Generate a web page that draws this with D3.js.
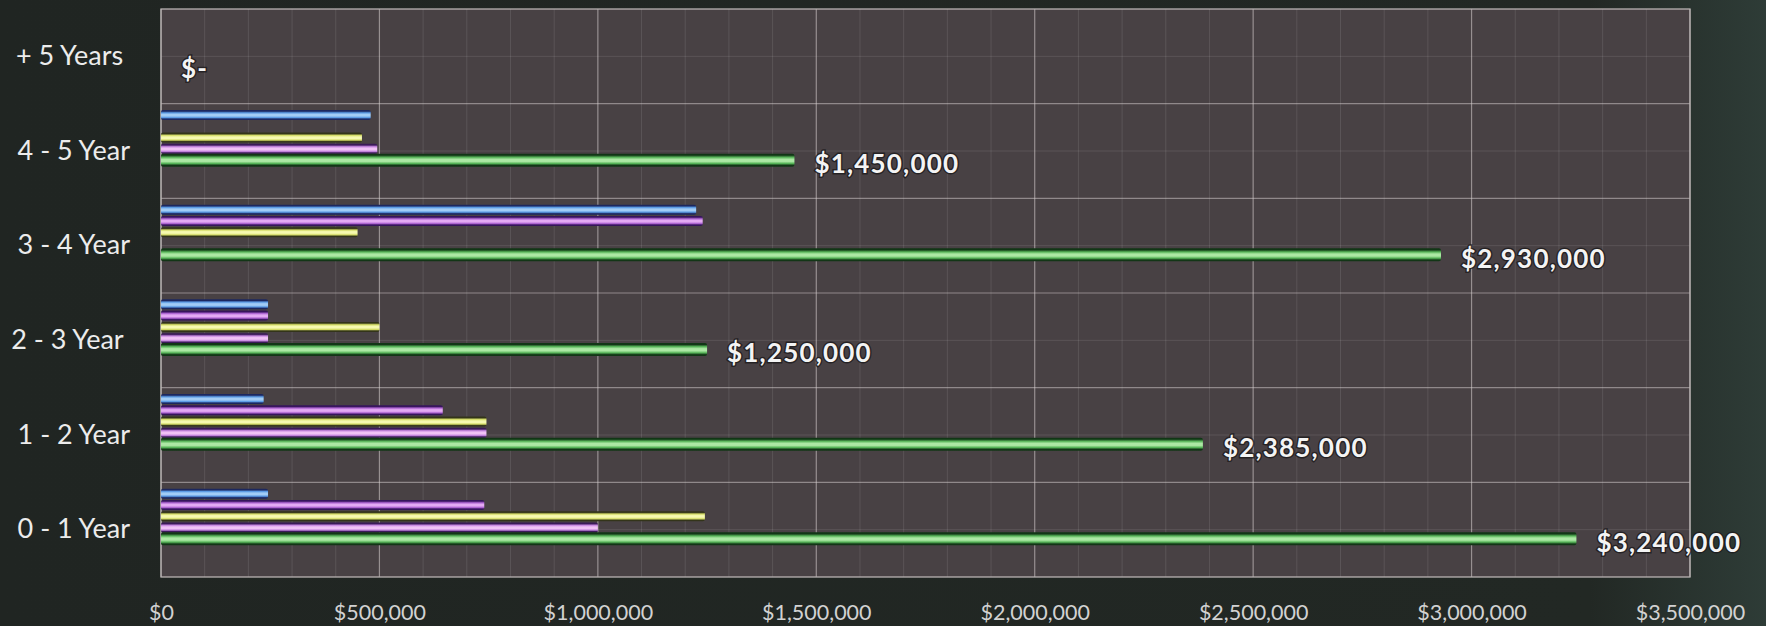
<!DOCTYPE html>
<html>
<head>
<meta charset="utf-8">
<script src="https://cdn.jsdelivr.net/npm/d3@7"></script>
<style>
  html, body { margin: 0; padding: 0; background: #212623; }
  svg { display: block; }
</style>
</head>
<body>
<svg id="chart" width="1766" height="626"></svg>
<script>
// Tenure brackets, top row first
const categories = ["+ 5 Years ", "4 - 5 Year", "3 - 4 Year", "2 - 3 Year ", "1 - 2 Year", "0 - 1 Year"];

// Component series per bracket (same order as categories)
const seriesBlue   = [0, 480000, 1225000, 245000, 235000, 245000];
const seriesPurple = [0, 0, 1240000, 245000, 645000, 740000];
const seriesYellow = [0, 460000, 450000, 500000, 745000, 1245000];
const seriesViolet = [0, 495000, 0, 245000, 745000, 1000000];
// Bracket totals, labelled on the chart
const seriesTotal  = [0, 1450000, 2930000, 1250000, 2385000, 3240000];

const seriesKeys = ["blue", "purple", "yellow", "violet", "total"];
const seriesValues = [seriesBlue, seriesPurple, seriesYellow, seriesViolet, seriesTotal];

// Axis ticks
const xTicks = [0, 500000, 1000000, 1500000, 2000000, 2500000, 3000000, 3500000];
const xMinorStep = 100000;

const W = 1766, H = 626;
const plot = { left: 161, right: 1690, top: 9, bottom: 577 };

const svg = d3.select("#chart");

// Bar palettes: edge (shadow), body, highlight
const palette = {
  blue:   { edge: "#1c2860", body: "#5a9ae4", light: "#a2cdf6" },
  purple: { edge: "#36145c", body: "#ac62d0", light: "#e4aaf4" },
  yellow: { edge: "#33341a", body: "#d4dc66", light: "#f6f9b0" },
  violet: { edge: "#3a1a58", body: "#c686e0", light: "#f0c2f6" },
  total:  { edge: "#123616", body: "#56b458", light: "#ace8a4" }
};

const defs = svg.append("defs");
seriesKeys.forEach(k => {
  const p = palette[k];
  const g = defs.append("linearGradient")
    .attr("id", "grad-" + k)
    .attr("x1", 0).attr("y1", 0).attr("x2", 0).attr("y2", 1);
  [[0, p.edge], [0.12, p.edge], [0.28, p.body], [0.44, p.light], [0.6, p.light], [0.76, p.body], [0.9, p.edge], [1, p.edge]]
    .forEach(([o, c]) => g.append("stop").attr("offset", o).attr("stop-color", c));
});

// Slight green cast toward the right edge of the backdrop
const bgGrad = defs.append("linearGradient").attr("id", "bg").attr("x1", 0).attr("x2", 1);
bgGrad.append("stop").attr("offset", 0).attr("stop-color", "#202522");
bgGrad.append("stop").attr("offset", 0.9).attr("stop-color", "#222824");
bgGrad.append("stop").attr("offset", 1).attr("stop-color", "#2e3c37");
svg.append("rect").attr("width", W).attr("height", H).attr("fill", "url(#bg)");

// Scales
const x = d3.scaleLinear().domain([0, 3500000]).range([plot.left, plot.right]);
const y = d3.scaleBand().domain(categories).range([plot.top, plot.bottom]).padding(0);
const bw = y.bandwidth();
const inner = d3.scaleBand().domain(seriesKeys).range([bw * 0.06, bw * 0.656]).padding(0);

// Plot background
svg.append("rect")
  .attr("x", plot.left).attr("y", plot.top)
  .attr("width", plot.right - plot.left).attr("height", plot.bottom - plot.top)
  .attr("fill", "#484144");

// Minor gridlines
const minorX = d3.range(0, 3500000 + 1, xMinorStep).filter(v => v % 500000 !== 0);
svg.append("g").selectAll("line").data(minorX).join("line")
  .attr("x1", d => x(d)).attr("x2", d => x(d))
  .attr("y1", plot.top).attr("y2", plot.bottom)
  .attr("stroke", "#ffffff").attr("stroke-opacity", 0.1).attr("stroke-width", 1);
svg.append("g").selectAll("line").data(categories).join("line")
  .attr("x1", plot.left).attr("x2", plot.right)
  .attr("y1", d => y(d) + bw / 2).attr("y2", d => y(d) + bw / 2)
  .attr("stroke", "#ffffff").attr("stroke-opacity", 0.1).attr("stroke-width", 1);

// Major gridlines
svg.append("g").selectAll("line").data(xTicks).join("line")
  .attr("x1", d => x(d)).attr("x2", d => x(d))
  .attr("y1", plot.top).attr("y2", plot.bottom)
  .attr("stroke", "#d8d2d2").attr("stroke-opacity", 0.55).attr("stroke-width", 1.2);
svg.append("g").selectAll("line").data(categories.slice(1)).join("line")
  .attr("x1", plot.left).attr("x2", plot.right)
  .attr("y1", d => y(d)).attr("y2", d => y(d))
  .attr("stroke", "#d8d2d2").attr("stroke-opacity", 0.5).attr("stroke-width", 1.2);

// Plot frame
svg.append("rect")
  .attr("x", plot.left).attr("y", plot.top)
  .attr("width", plot.right - plot.left).attr("height", plot.bottom - plot.top)
  .attr("fill", "none").attr("stroke", "#b8b2b2").attr("stroke-width", 1.3);

// Bars
const barData = [];
categories.forEach((c, i) => {
  seriesKeys.forEach((k, j) => {
    barData.push({ cat: c, key: k, value: seriesValues[j][i] });
  });
});
const thick = k => (k === "total" ? 13 : 10);

svg.append("g").selectAll("rect").data(barData.filter(d => d.value > 0)).join("rect")
  .attr("x", x(0))
  .attr("y", d => y(d.cat) + inner(d.key) + inner.bandwidth() / 2 - thick(d.key) / 2)
  .attr("width", d => x(d.value) - x(0))
  .attr("height", d => thick(d.key))
  .attr("rx", 2)
  .attr("fill", d => "url(#grad-" + d.key + ")");

// Total value labels
const fmtMoney = d3.format("$,");
const fmtLabel = v => (v === 0 ? "$-" : fmtMoney(v));
svg.append("g").selectAll("text").data(categories.map((c, i) => ({ cat: c, value: seriesTotal[i] })))
  .join("text")
  .attr("x", d => x(d.value) + 20)
  .attr("y", d => y(d.cat) + inner("total") + inner.bandwidth() / 2 + 3)
  .attr("dominant-baseline", "central")
  .attr("font-family", "Lato, 'Open Sans', sans-serif")
  .attr("font-size", 26)
  .attr("font-weight", 700)
  .attr("letter-spacing", 1.2)
  .attr("fill", "#f4f4f4")
  .attr("stroke", "#1c1a1c")
  .attr("stroke-width", 3)
  .attr("stroke-opacity", 0.8)
  .attr("paint-order", "stroke")
  .text(d => fmtLabel(d.value));

// X axis labels
const xAxis = d3.axisBottom(x).tickValues(xTicks).tickFormat(fmtMoney).tickSize(0).tickPadding(0);
const gx = svg.append("g").attr("transform", `translate(0, ${plot.bottom + 28})`).call(xAxis);
gx.select(".domain").remove();
gx.selectAll("text")
  .attr("font-family", "Lato, 'Open Sans', sans-serif")
  .attr("font-size", 21.5)
  .attr("fill", "#d2d2d2");

// Category labels
const yAxis = d3.axisLeft(y).tickSize(0).tickPadding(0);
const gy = svg.append("g").attr("transform", "translate(130, 0)").call(yAxis);
gy.select(".domain").remove();
gy.selectAll("text")
  .style("white-space", "pre")
  .attr("font-family", "Lato, 'Open Sans', sans-serif")
  .attr("font-size", 27)
  .attr("fill", "#ececec");
</script>
</body>
</html>
